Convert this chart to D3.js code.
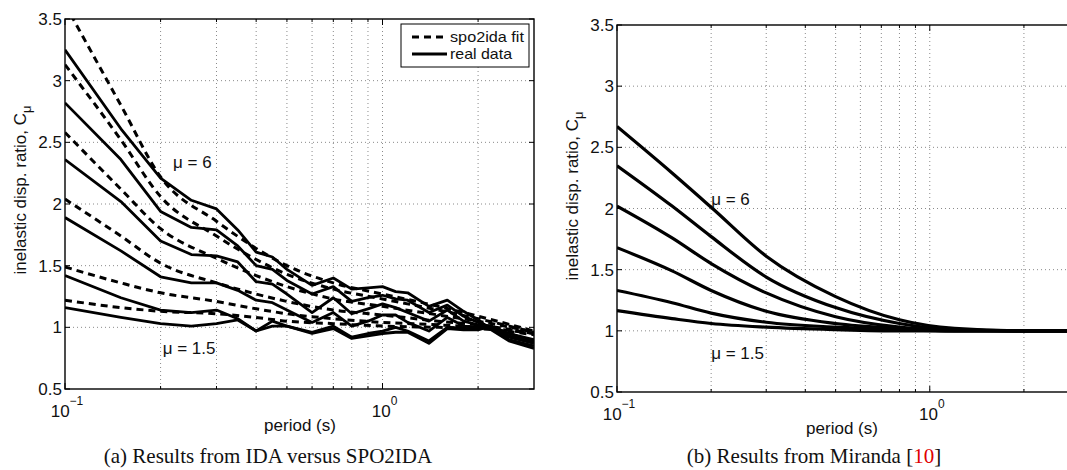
<!DOCTYPE html>
<meta charset="UTF-8">
<style>
body { margin: 0; background: #fff; }
svg { display: block; font-family: "Liberation Sans", Arial, sans-serif; }
.grid line { stroke: #8a8a8a; stroke-width: 1; stroke-dasharray: 1,3; }
.frame { fill: none; stroke: #000; stroke-width: 1.4; }
.tick { stroke: #000; stroke-width: 1; }
.real { fill: none; stroke: #000; stroke-width: 2.8; stroke-linejoin: round; }
.fit { fill: none; stroke: #000; stroke-width: 3; stroke-dasharray: 7,5; }
.mir { fill: none; stroke: #000; stroke-width: 3.2; }
.lbl { font-size: 17px; fill: #111; }
.leg { font-size: 15px; fill: #111; }
.cap { font-family: "Liberation Serif", "Times New Roman", serif; font-size: 21px; fill: #111; }
</style>
<body>
<script src="https://d3js.org/d3.v7.min.js"></script>
<script>

// periods (s)
var periodsReal = [0.1, 0.15, 0.2, 0.25, 0.3, 0.35, 0.4, 0.45, 0.5, 0.6, 0.7, 0.8, 0.9, 1.0, 1.1, 1.2, 1.4, 1.6, 1.8, 2.0, 2.2, 2.5, 3.0];
var periodsFit  = [0.1, 0.15, 0.2, 0.3, 0.4, 0.5, 0.7, 1.0, 1.5, 2.0, 3.0];
var periodsMir  = [0.1, 0.15, 0.2, 0.3, 0.5, 0.8, 1.2, 2.0, 3.0];

// (a) real data, mu = 6 ... 1.5
var real6 = [3.25, 2.61, 2.21, 2.03, 1.96, 1.79, 1.61, 1.57, 1.47, 1.34, 1.40, 1.31, 1.32, 1.33, 1.29, 1.28, 1.17, 1.22, 1.13, 1.06, 0.98, 0.89, 0.83];
var real5 = [2.82, 2.36, 1.94, 1.81, 1.79, 1.66, 1.50, 1.47, 1.38, 1.27, 1.33, 1.21, 1.24, 1.26, 1.23, 1.22, 1.12, 1.18, 1.09, 1.04, 1.00, 0.90, 0.85];
var real4 = [2.36, 2.02, 1.70, 1.59, 1.58, 1.53, 1.37, 1.35, 1.27, 1.12, 1.24, 1.11, 1.15, 1.19, 1.16, 1.12, 1.05, 1.14, 1.05, 1.02, 1.01, 0.92, 0.87];
var real3 = [1.89, 1.62, 1.41, 1.36, 1.36, 1.30, 1.22, 1.20, 1.14, 1.04, 1.12, 1.01, 1.05, 1.10, 1.10, 1.04, 0.97, 1.08, 1.01, 1.00, 1.01, 0.93, 0.88];
var real2 = [1.42, 1.24, 1.14, 1.12, 1.14, 1.07, 0.97, 1.05, 1.01, 0.96, 1.01, 0.92, 0.95, 0.97, 1.00, 0.97, 0.89, 1.00, 0.99, 0.99, 1.00, 0.95, 0.89];
var real1 = [1.16, 1.08, 1.03, 1.01, 1.03, 1.06, 0.97, 1.01, 1.01, 0.95, 0.99, 0.91, 0.93, 0.95, 0.96, 0.96, 0.87, 0.99, 0.98, 0.98, 1.01, 0.95, 0.90];

// (a) spo2ida fit
var fit6 = [3.62, 2.80, 2.22, 1.86, 1.64, 1.50, 1.36, 1.27, 1.17, 1.09, 0.97];
var fit5 = [3.13, 2.52, 2.06, 1.74, 1.55, 1.43, 1.31, 1.23, 1.14, 1.07, 0.96];
var fit4 = [2.58, 2.12, 1.80, 1.56, 1.42, 1.33, 1.23, 1.17, 1.10, 1.05, 0.96];
var fit3 = [2.04, 1.74, 1.52, 1.36, 1.27, 1.21, 1.14, 1.10, 1.05, 1.02, 0.95];
var fit2 = [1.49, 1.36, 1.28, 1.21, 1.15, 1.11, 1.07, 1.04, 1.02, 1.00, 0.95];
var fit1 = [1.22, 1.16, 1.13, 1.11, 1.08, 1.05, 1.03, 1.01, 1.00, 0.99, 0.94];

// (b) Miranda
var mir6 = [2.67, 2.29, 2.01, 1.61, 1.28, 1.09, 1.02, 1.00, 1.00];
var mir5 = [2.35, 2.02, 1.77, 1.44, 1.19, 1.06, 1.01, 1.00, 1.00];
var mir4 = [2.02, 1.76, 1.55, 1.31, 1.115, 1.03, 1.005, 1.00, 1.00];
var mir3 = [1.68, 1.49, 1.33, 1.16, 1.06, 1.02, 1.00, 1.00, 1.00];
var mir2 = [1.33, 1.23, 1.145, 1.07, 1.03, 1.01, 1.00, 1.00, 1.00];
var mir1 = [1.165, 1.10, 1.06, 1.03, 1.01, 1.00, 1.00, 1.00, 1.00];

var yTicks = [0.5, 1, 1.5, 2, 2.5, 3, 3.5];
var yTickLabels = ["0.5", "1", "1.5", "2", "2.5", "3", "3.5"];
var xMajor = [0.1, 1];
var xMajorExp = ["\u22121", "0"];
var xMinor = [0.2, 0.3, 0.4, 0.5, 0.6, 0.7, 0.8, 0.9, 2];

var svg = d3.select("body").append("svg")
    .attr("width", 1067)
    .attr("height", 470);

svg.append("rect").attr("width", 1067).attr("height", 470).attr("fill", "#fff");

function panel(id, box, caption) {
  var x = d3.scaleLog().domain([0.1, 3]).range([box.x0, box.x1]);
  var y = d3.scaleLinear().domain([0.5, 3.5]).range([box.y1, box.y0]);
  var g = svg.append("g");

  g.append("clipPath").attr("id", "clip" + id)
    .append("rect")
      .attr("x", box.x0).attr("y", box.y0)
      .attr("width", box.x1 - box.x0).attr("height", box.y1 - box.y0);

  // dotted grid
  var grid = g.append("g").attr("class", "grid");
  grid.selectAll(".gx").data(xMinor.concat([1])).enter().append("line")
      .attr("x1", function(d) { return x(d); }).attr("x2", function(d) { return x(d); })
      .attr("y1", box.y0).attr("y2", box.y1);
  grid.selectAll(".gy").data(yTicks.slice(1, -1)).enter().append("line")
      .attr("x1", box.x0).attr("x2", box.x1)
      .attr("y1", function(d) { return y(d); }).attr("y2", function(d) { return y(d); });

  // ticks (inside, both sides)
  var tk = g.append("g");
  yTicks.forEach(function(v) {
    tk.append("line").attr("class", "tick").attr("x1", box.x0).attr("x2", box.x0 + 5).attr("y1", y(v)).attr("y2", y(v));
    tk.append("line").attr("class", "tick").attr("x1", box.x1).attr("x2", box.x1 - 5).attr("y1", y(v)).attr("y2", y(v));
  });
  xMajor.concat(xMinor).forEach(function(v) {
    var len = xMajor.indexOf(v) >= 0 ? 6 : 3;
    tk.append("line").attr("class", "tick").attr("x1", x(v)).attr("x2", x(v)).attr("y1", box.y1).attr("y2", box.y1 - len);
    tk.append("line").attr("class", "tick").attr("x1", x(v)).attr("x2", x(v)).attr("y1", box.y0).attr("y2", box.y0 + len);
  });

  // tick labels
  g.selectAll(".yl").data(yTicks).enter().append("text")
      .attr("class", "lbl")
      .attr("x", box.x0 - 3)
      .attr("y", function(d) { return y(d) + 6; })
      .attr("text-anchor", "end")
      .text(function(d, i) { return yTickLabels[i]; });

  xMajor.forEach(function(v, i) {
    var t = g.append("text").attr("class", "lbl")
        .attr("x", x(v) + 2).attr("y", box.y1 + 28)
        .attr("text-anchor", "middle");
    t.append("tspan").text("10");
    t.append("tspan").attr("dy", -12).style("font-size", "12px").text(xMajorExp[i]);
  });

  g.append("text").attr("class", "lbl")
      .attr("x", box.xlab)
      .attr("y", box.y1 + 42)
      .attr("text-anchor", "middle")
      .text("period (s)");

  var yl = g.append("text").attr("class", "lbl")
      .attr("transform", "translate(" + (box.x0 - 39) + "," + (box.ylab) + ") rotate(-90)")
      .attr("text-anchor", "middle");
  yl.append("tspan").text("inelastic disp. ratio, C");
  yl.append("tspan").attr("dy", 5).style("font-size", "13px").text("\u03bc");

  g.append("rect").attr("class", "frame")
      .attr("x", box.x0).attr("y", box.y0)
      .attr("width", box.x1 - box.x0).attr("height", box.y1 - box.y0);

  g.append("text").attr("class", "cap")
      .attr("x", box.capx).attr("y", 463)
      .attr("text-anchor", "middle")
      .call(caption);

  return {x: x, y: y, g: g, clip: "url(#clip" + id + ")"};
}

function series(p, periods, values, cls, curve) {
  var pts = periods.map(function(t, i) { return [t, values[i]]; });
  var line = d3.line()
      .x(function(d) { return p.x(d[0]); })
      .y(function(d) { return p.y(d[1]); })
      .curve(curve);
  p.g.append("path")
      .attr("class", cls)
      .attr("clip-path", p.clip)
      .attr("d", line(pts));
}

// ---- (a) ----
var pa = panel("a", {x0: 65, x1: 534, y0: 19, y1: 389, ylab: 190, xlab: 300, capx: 268}, function(t) {
  t.text("(a)  Results from IDA versus SPO2IDA");
});
[fit6, fit5, fit4, fit3, fit2, fit1].forEach(function(v) {
  series(pa, periodsFit, v, "fit", d3.curveMonotoneX);
});
[real6, real5, real4, real3, real2, real1].forEach(function(v) {
  series(pa, periodsReal, v, "real", d3.curveLinear);
});

pa.g.append("text").attr("class", "lbl").attr("x", pa.x(0.219)).attr("y", 168).text("\u03bc = 6");
pa.g.append("text").attr("class", "lbl").attr("x", pa.x(0.203)).attr("y", 354).text("\u03bc = 1.5");

// legend
var lg = pa.g.append("g");
lg.append("rect").attr("x", 401).attr("y", 24).attr("width", 128).attr("height", 43)
    .attr("fill", "#fff").attr("stroke", "#000").attr("stroke-width", 1);
lg.append("line").attr("class", "fit").attr("x1", 412).attr("x2", 447).attr("y1", 37).attr("y2", 37);
lg.append("line").attr("class", "real").attr("x1", 412).attr("x2", 447).attr("y1", 54).attr("y2", 54);
lg.append("text").attr("class", "leg").attr("x", 450).attr("y", 42)
    .attr("textLength", 74).attr("lengthAdjust", "spacingAndGlyphs").text("spo2ida fit");
lg.append("text").attr("class", "leg").attr("x", 450).attr("y", 59)
    .attr("textLength", 62).attr("lengthAdjust", "spacingAndGlyphs").text("real data");

// ---- (b) ----
var pb = panel("b", {x0: 617, x1: 1079, y0: 25, y1: 392, ylab: 196, xlab: 842, capx: 814}, function(t) {
  t.append("tspan").text("(b)  Results from Miranda [");
  t.append("tspan").attr("fill", "#e00000").text("10");
  t.append("tspan").text("]");
});
[mir6, mir5, mir4, mir3, mir2, mir1].forEach(function(v) {
  series(pb, periodsMir, v, "mir", d3.curveMonotoneX);
});
pb.g.append("text").attr("class", "lbl").attr("x", pb.x(0.2)).attr("y", 205).text("\u03bc = 6");
pb.g.append("text").attr("class", "lbl").attr("x", pb.x(0.2)).attr("y", 359).text("\u03bc = 1.5");

</script>
</body>
